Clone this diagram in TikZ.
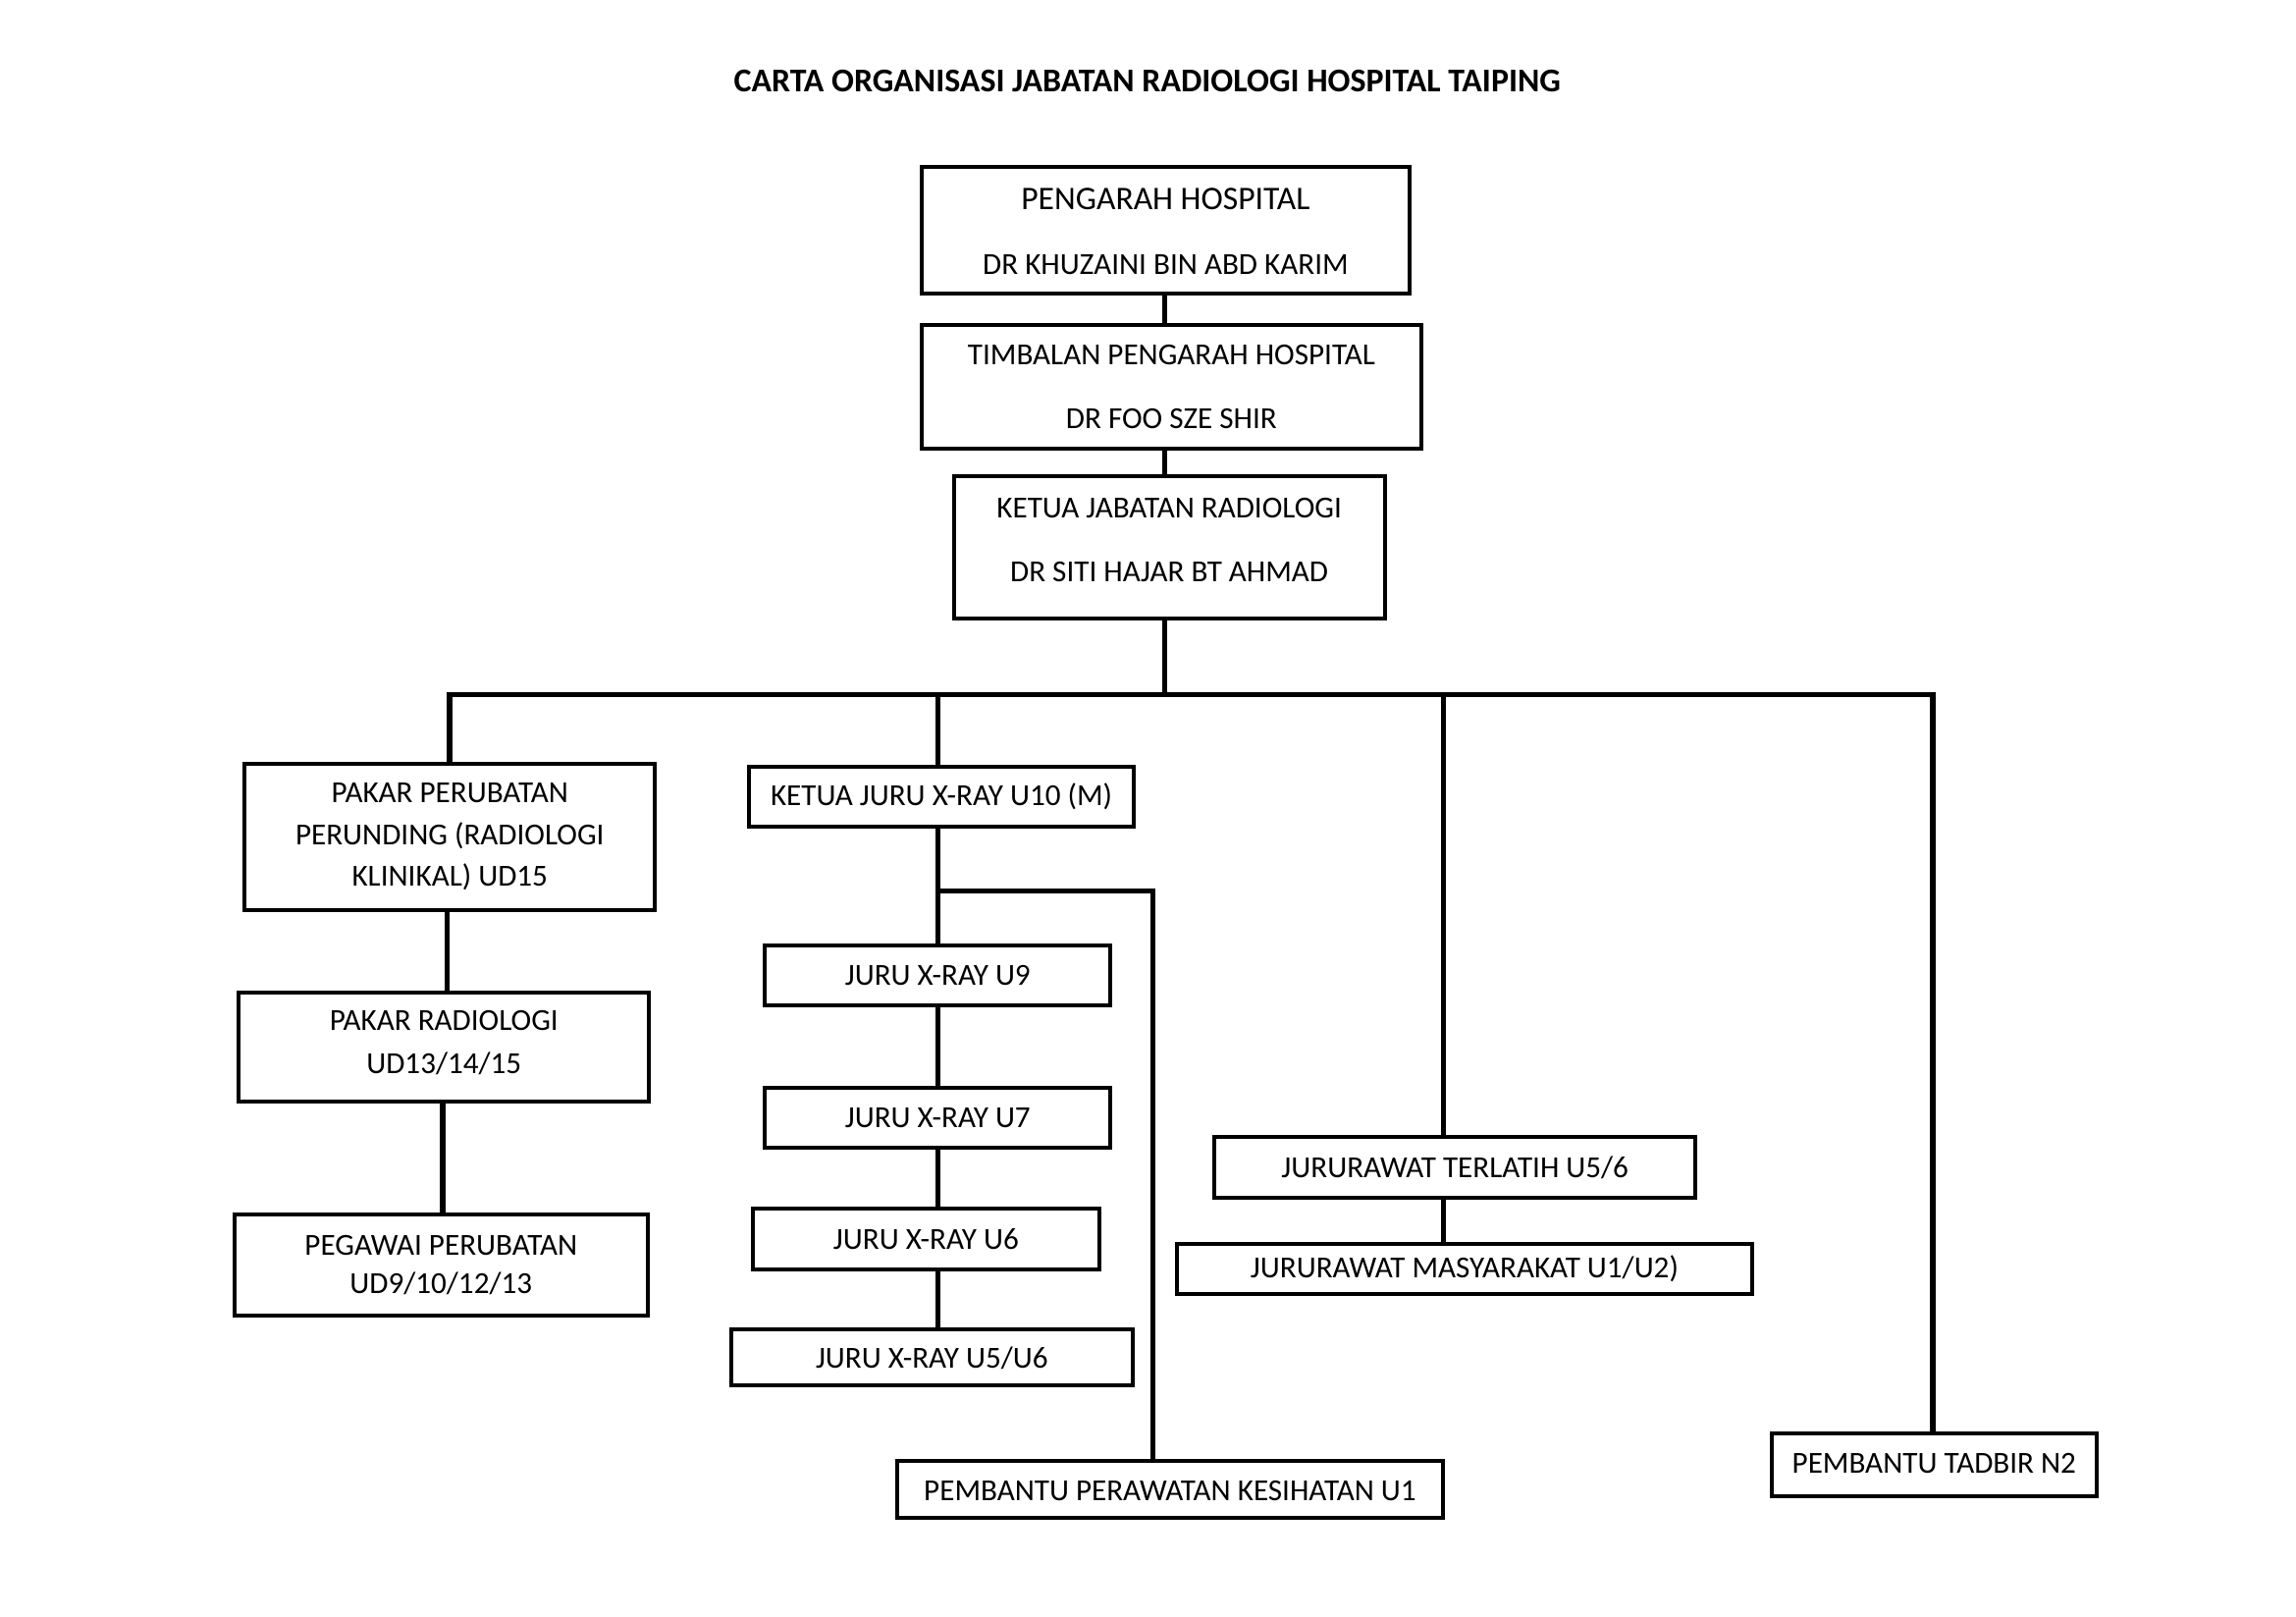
\documentclass[tikz,border=0pt]{standalone}
\usepackage{fontspec}
\setmainfont{Carlito}
% \obox{name}{x1}{y1}{x2}{y2}{text dy}{text}
\newcommand\obox[7]{%
  \node[box,minimum width={(#4-#2)*0.01905cm},minimum height={(#5-#3)*0.01905cm}] (#1) at ({(#2+#4)/2},{(#3+#5)/2}) {};
  \node[lbl] (#1t) at ({(#2+#4)/2},{(#3+#5)/2+#6}) {#7};}
\begin{document}
\begin{tikzpicture}[x=0.01905cm,y=-0.01905cm,
  box/.style={draw=black,line width=1.45pt,inner sep=0pt},
  lbl/.style={inner sep=0pt,align=center,font=\fontsize{11.3}{13.8}\selectfont},
  conn/.style={draw=black,line width=2.0pt},
  ttl/.style={font=\bfseries\fontsize{12.3}{15}\selectfont}]
\useasboundingbox[fill=white] (0,0) rectangle (1567,1102.8);
\node[ttl] (title) at (783,55) {CARTA ORGANISASI JABATAN RADIOLOGI HOSPITAL TAIPING};
% top chain
\obox{b1}{629}{114}{962}{200}{1}{{\fontsize{12.2}{14}\selectfont PENGARAH HOSPITAL}\\[10pt]DR KHUZAINI BIN ABD KARIM}
\obox{b2}{629}{222}{970}{306}{0}{TIMBALAN PENGARAH HOSPITAL\\[10pt]DR FOO SZE SHIR}
\obox{b3}{651}{325}{945}{422}{-5}{KETUA JABATAN RADIOLOGI\\[10pt]DR SITI HAJAR BT AHMAD}
% left column
\obox{pp}{167}{521}{447}{621}{0}{PAKAR PERUBATAN\\[1.6pt]PERUNDING (RADIOLOGI\\[1.6pt]KLINIKAL) UD15}
\obox{pr}{163}{677}{443}{752}{-3}{PAKAR RADIOLOGI\\[1.9pt]UD13/14/15}
\obox{pg}{160}{829}{442}{898}{0}{PEGAWAI PERUBATAN\\[0.3pt]UD9/10/12/13}
% x-ray column
\obox{kj}{511}{523}{774}{564}{0}{KETUA JURU X-RAY U10 (M)}
\obox{j9}{522}{645}{758}{686}{0}{JURU X-RAY U9}
\obox{j7}{522}{742}{758}{783}{0}{JURU X-RAY U7}
\obox{j6}{514}{825}{750}{866}{0}{JURU X-RAY U6}
\obox{j5}{499}{907}{773}{945}{1}{JURU X-RAY U5/U6}
\obox{ppk}{612}{997}{985}{1036}{1}{PEMBANTU PERAWATAN KESIHATAN U1}
% nurses
\obox{jt}{829}{776}{1157}{817}{0}{JURURAWAT TERLATIH U5/6}
\obox{jm}{803}{849}{1196}{883}{0}{JURURAWAT MASYARAKAT U1/U2)}
% admin
\obox{pt}{1209}{978}{1431}{1021}{-1}{PEMBANTU TADBIR N2}
% coordinates
\coordinate (tx) at (795,0);
\coordinate (busL) at (307,474);
\coordinate (busR) at (1319,474);
\coordinate (dkj) at (640,474);
\coordinate (djt) at (985,474);
\coordinate (br) at (640,608);
\coordinate (brR) at (787,608);
\coordinate (lx1) at (305,0);
\coordinate (lx2) at (302,0);
% connectors
\draw[conn] (tx |- b1.south) -- (tx |- b2.north);
\draw[conn] (tx |- b2.south) -- (tx |- b3.north);
\draw[conn] (tx |- b3.south) -- (tx |- busL);
\draw[conn] (busL |- pp.north) -- (busL) -- (busR) -- (busR |- pt.north);
\draw[conn] (dkj) -- (dkj |- kj.north);
\draw[conn] (djt) -- (djt |- jt.north);
\draw[conn] (lx1 |- pp.south) -- (lx1 |- pr.north);
\draw[conn] (lx2 |- pr.south) -- (lx2 |- pg.north);
\draw[conn] (dkj |- kj.south) -- (dkj |- j9.north);
\draw[conn] (dkj |- j9.south) -- (dkj |- j7.north);
\draw[conn] (dkj |- j7.south) -- (dkj |- j6.north);
\draw[conn] (dkj |- j6.south) -- (dkj |- j5.north);
\draw[conn] (br) -- (brR) -- (brR |- ppk.north);
\draw[conn] (djt |- jt.south) -- (djt |- jm.north);
\end{tikzpicture}
\end{document}
